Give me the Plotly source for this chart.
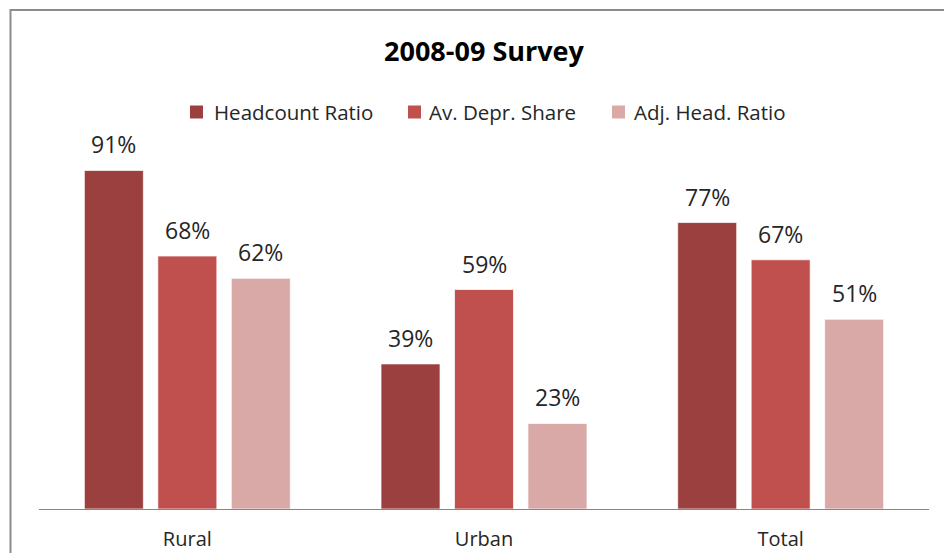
import plotly.graph_objects as go

# Survey results (2008-09), in percent
categories = ["Rural", "Urban", "Total"]
series_names = ["Headcount Ratio", "Av. Depr. Share", "Adj. Head. Ratio"]
headcount_ratio = [91, 39, 77]
av_depr_share = [68, 59, 67]
adj_head_ratio = [62, 23, 51]
series_values = [headcount_ratio, av_depr_share, adj_head_ratio]
colors = ["#9B403E", "#C0504D", "#D9A9A8"]

# Figure geometry (pixels)
W, H = 944, 553
L, R, T, B = 39, 15, 137, 44
PLOT_W, PLOT_H = W - L - R, H - T - B
BARGAP, BARGROUPGAP = 0.257, 0.197
FONT = "Open Sans"
TEXT_COLOR = "#262626"


def px_x(px):
    """Horizontal pixel -> paper coordinate."""
    return (px - L) / PLOT_W


def px_y(py):
    """Vertical pixel -> paper coordinate."""
    return (H - B - py) / PLOT_H


fig = go.Figure()
for name, vals, col in zip(series_names, series_values, colors):
    fig.add_trace(go.Bar(
        x=categories, y=vals, name=name,
        marker=dict(color=col, line=dict(color="rgba(255,255,255,0.7)", width=1)),
        showlegend=False, hoverinfo="x+y+name",
    ))

# Value labels above each bar
n_series = len(series_names)
slot_px = PLOT_W / len(categories) * (1 - BARGAP) / n_series
annotations = []
for i, vals in enumerate(series_values):
    for cat, v in zip(categories, vals):
        annotations.append(dict(
            x=cat, y=v, xref="x", yref="y", text=f"{v}%",
            showarrow=False, xanchor="center", yanchor="middle",
            xshift=(i - (n_series - 1) / 2) * slot_px, yshift=26,
            font=dict(family=FONT, size=23, color=TEXT_COLOR),
        ))

# Legend row: colour squares with labels
legend_marker_left = [190, 408, 612]
legend_text_left = [212, 427, 632]
legend_cy = 112
shapes = []
for name, col, mx, tx in zip(series_names, colors, legend_marker_left, legend_text_left):
    shapes.append(dict(
        type="rect", xref="paper", yref="paper",
        x0=px_x(mx), x1=px_x(mx + 13), y0=px_y(legend_cy + 6.5), y1=px_y(legend_cy - 6.5),
        fillcolor=col, line=dict(width=0),
    ))
    annotations.append(dict(
        x=px_x(tx), y=px_y(legend_cy), xref="paper", yref="paper", text=name,
        showarrow=False, xanchor="left", yanchor="middle",
        font=dict(family=FONT, size=20.5, color=TEXT_COLOR),
    ))

# Chart frame
shapes.append(dict(
    type="rect", xref="paper", yref="paper",
    x0=px_x(10.5), x1=px_x(980), y0=px_y(590), y1=px_y(10),
    line=dict(color="#8C8C8C", width=2), fillcolor="rgba(0,0,0,0)", layer="below",
))

fig.update_layout(
    width=W, height=H,
    margin=dict(l=L, r=R, t=T, b=B, pad=0, autoexpand=False),
    paper_bgcolor="white", plot_bgcolor="white",
    barmode="group", bargap=BARGAP, bargroupgap=BARGROUPGAP,
    title=dict(
        text="<b>2008-09 Survey</b>", x=484 / W, xanchor="center",
        y=1 - 52 / H, yanchor="middle", yref="container",
        font=dict(family=FONT, size=27, color="#000000"),
    ),
    xaxis=dict(
        showline=True, linecolor="#868686", linewidth=1, ticks="",
        showgrid=False, zeroline=False, ticklabelstandoff=12, automargin=False,
        tickfont=dict(family=FONT, size=20, color=TEXT_COLOR),
    ),
    yaxis=dict(range=[0, 100], visible=False, showgrid=False, zeroline=False,
               automargin=False),
    annotations=annotations, shapes=shapes,
    font=dict(family=FONT),
)

fig.write_html("out.html")
